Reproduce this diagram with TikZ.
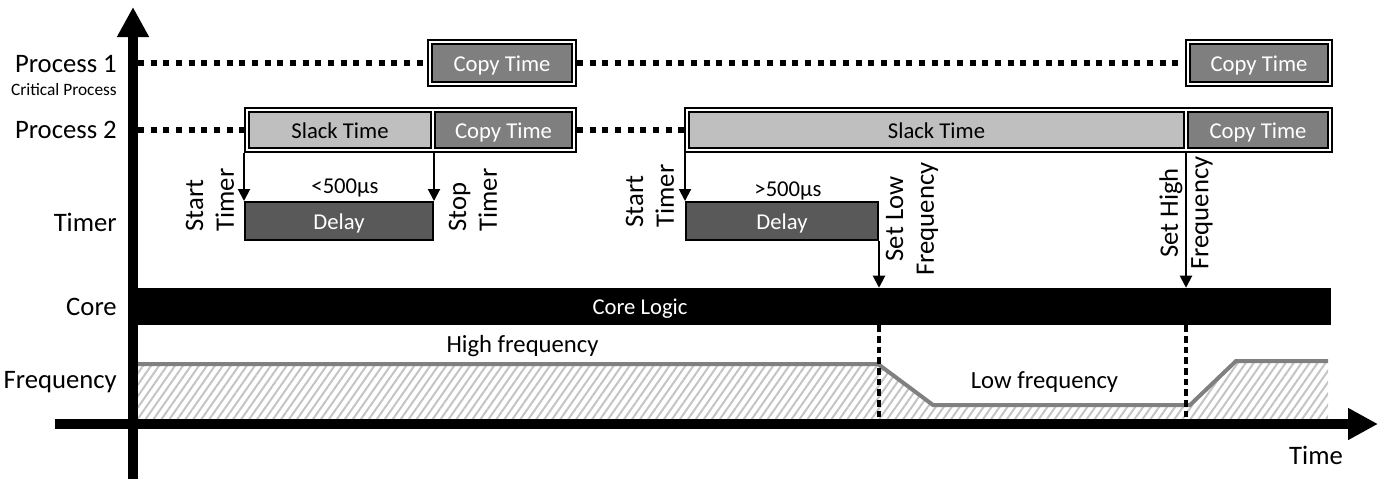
\documentclass[tikz,border=0pt]{standalone}
\usepackage{fontspec}
\setmainfont{Carlito}
\usetikzlibrary{arrows.meta,positioning,calc,fit,patterns.meta}
\definecolor{copygray}{HTML}{7F7F7F}
\definecolor{slackgray}{HTML}{BFBFBF}
\definecolor{delaygray}{HTML}{595959}
\definecolor{freqgray}{HTML}{808080}
\definecolor{hatchgray}{HTML}{C4C4C4}

\begin{document}
\begin{tikzpicture}[x=0.75pt, y=-0.75pt, line cap=butt,
  rowlabel/.style={anchor=base east, inner sep=0pt, font=\fontsize{20}{24}\selectfont},
  taskbox/.style={draw, line width=1.5pt, inner sep=0pt, minimum height=27pt, text height=12.5pt, text depth=0pt, font=\fontsize{17}{20}\selectfont},
  copybox/.style={taskbox, fill=copygray, text=white, minimum width=#1},
  slackbox/.style={taskbox, fill=slackgray, minimum width=#1},
  delaybox/.style={taskbox, fill=delaygray, text=white, minimum height=28.5pt, minimum width=#1},
  boxframe/.style={draw, line width=1.5pt, inner sep=2.25pt},
  idleline/.style={line width=4.5pt, dash pattern=on 4.5pt off 5pt},
  sig/.style={line width=1.5pt, -{Triangle[length=9pt, width=9pt]}},
  freqdash/.style={line width=2.5pt, dash pattern=on 5pt off 3pt},
  timernote/.style={rotate=90, align=left, inner sep=0pt, font=\fontsize{20}{23}\selectfont},
  valuelbl/.style={anchor=base, inner sep=0pt, font=\fontsize{17}{20}\selectfont},
  freqlbl/.style={anchor=base, inner sep=0pt, font=\fontsize{18.5}{22}\selectfont},
  timeaxis/.style={line width=7.5pt, -{Triangle[length=22.5pt, width=22.5pt]}}]
  \useasboundingbox (0,0) rectangle (1385,479);
  % axis ends
  \coordinate (ybot) at (133,479);   \coordinate (ytop) at (133,7);
  \coordinate (xleft) at (55,424);   \coordinate (xright) at (1378,424);
  \coordinate (p1start) at (138,63); \coordinate (p2start) at (138,130);
  % row labels
  \node[rowlabel] (lp1) at (117,72) {Process 1};
  \node[anchor=base east, inner sep=0pt, font=\fontsize{13}{15}\selectfont] (lcrit) at (117,95) {Critical Process};
  \node[rowlabel] (lp2) at (117,138) {Process 2};
  \node[rowlabel] (ltimer) at (117,231) {Timer};
  \node[rowlabel] (lcore) at (117,315) {Core};
  \node[rowlabel] (lfreq) at (117,388) {Frequency};
  \node[anchor=base, inner sep=0pt, font=\fontsize{20}{24}\selectfont] (ltime) at (1316,464) {Time};
  % process 1
  \node[copybox=105pt, minimum height=28.5pt, text height=13pt] (c1a) at (502,63) {Copy Time};
  \node[copybox=103.5pt, minimum height=28.5pt, text height=13pt] (c1b) at (1259,63) {Copy Time};
  \node[boxframe, fit=(c1a)] (f1a) {};
  \node[boxframe, fit=(c1b)] (f1b) {};
  \draw[idleline] (p1start) -- (f1a.west) (f1a.east) -- (f1b.west);
  % process 2
  \node[slackbox=136.5pt] (s2a) at (340,130) {Slack Time};
  \node[copybox=102.75pt] (c2a) at (503.5,130) {Copy Time};
  \node[slackbox=371.25pt] (s2b) at (936.5,130) {Slack Time};
  \node[copybox=105pt] (c2b) at (1258,130) {Copy Time};
  \node[boxframe, fit=(s2a)(c2a)] (f2a) {};
  \node[boxframe, fit=(s2b)(c2b)] (f2b) {};
  \draw[idleline] (p2start) -- (f2a.west) (f2a.east) -- (f2b.west);
  % timer
  \node[delaybox=141pt, text height=13pt] (d1) at (339,221) {Delay};
  \node[delaybox=144pt, text height=13pt] (d2) at (782,221) {Delay};
  \node[valuelbl] (lt1) at (345,193) {<500µs};
  \node[valuelbl] (lt2) at (788,196) {>500µs};
  % core
  \node[fill=black, minimum width=894.75pt, minimum height=27.75pt, inner sep=0pt] (core) at (734.5,306.5) {};
  \node[valuelbl, text=white] (corelbl) at (640,314) {Core Logic};
  \coordinate (hi) at ($(s2b.east)!0.5!(c2b.west)$);
  \draw[sig] (d1.north west |- f2a.south) -- (d1.north west);
  \draw[sig] (d1.north east |- f2a.south) -- (d1.north east);
  \draw[sig] (d2.north west |- f2b.south) -- (d2.north west);
  \draw[sig] (d2.south east) -- (d2.south east |- core.north);
  \draw[sig] (hi |- f2b.south) -- (hi |- core.north);
  \node[timernote] (st1) at (210,200) {Start\\Timer};
  \node[timernote] (sp1) at (473,200) {Stop\\Timer};
  \node[timernote] (st2) at (650,196) {Start\\Timer};
  \node[timernote, align=center] (slow) at (912,219) {Set Low\\Frequency};
  \node[timernote, align=center] (shigh) at (1186,213) {Set High\\Frequency};
  % frequency
  \fill[pattern={Lines[angle=55, distance=4.9pt, line width=1.5pt]}, pattern color=hatchgray]
    (138,364) -- (878,364) -- (933,405) -- (1190,405) -- (1236,361) -- (1328,361) -- (1328,424) -- (138,424) -- cycle;
  \draw[freqgray, line width=3pt] (138,364) -- (878,364) -- (933,405) -- (1190,405) -- (1236,361) -- (1328,361);
  \node[freqlbl] (lhigh) at (522.5,352) {High frequency};
  \node[freqlbl] (llow) at (1044.5,388) {Low frequency};
  \draw[freqdash] (d2.south east |- core.south) -- (d2.south east |- xleft);
  \draw[freqdash] (hi |- core.south) -- (hi |- xleft);
  % axes
  \draw[timeaxis] (xleft) -- (xright);
  \draw[timeaxis] (ybot) -- (ytop);
\end{tikzpicture}
\end{document}
